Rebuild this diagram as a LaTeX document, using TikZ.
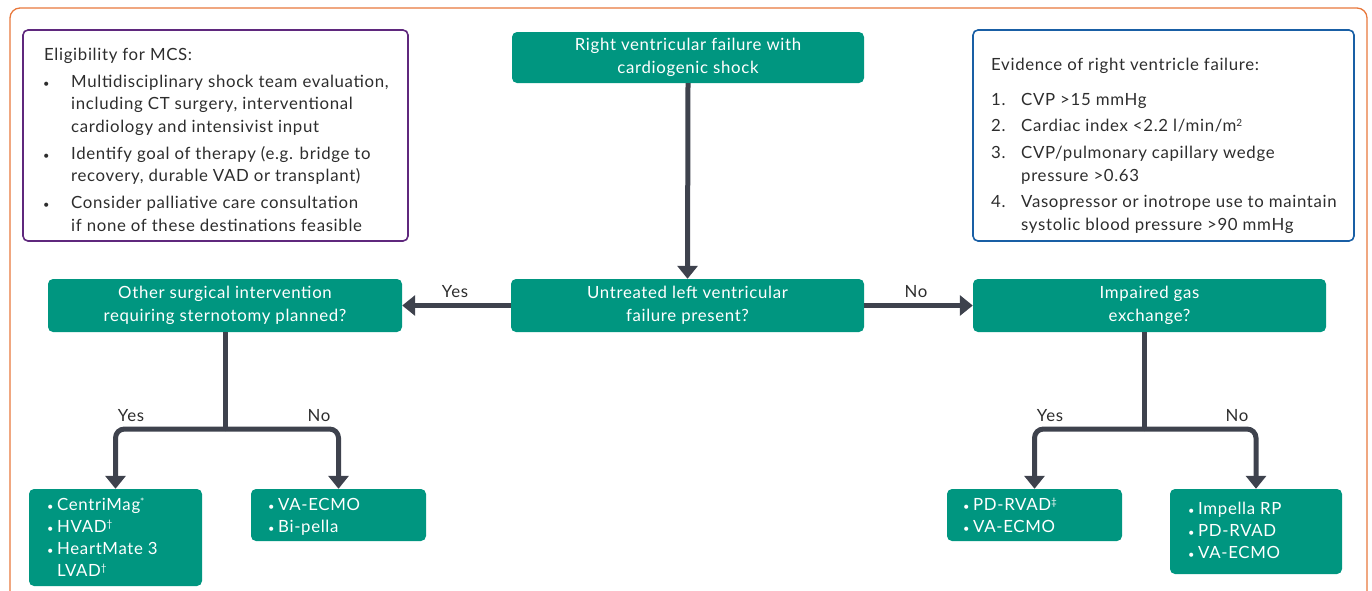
\documentclass[tikz,border=0pt]{standalone}
\usepackage{fontspec}
\setmainfont{Lato}[LetterSpace=4]
\usetikzlibrary{arrows.meta}
\definecolor{gr}{RGB}{0,150,128}
\definecolor{dk}{RGB}{62,66,77}
\definecolor{pu}{RGB}{95,40,125}
\definecolor{bl}{RGB}{25,95,165}
\definecolor{orng}{RGB}{232,120,60}
\definecolor{lbl}{RGB}{45,45,45}
\newcommand{\fs}{\fontsize{16.8}{22.5}\selectfont}
\newcommand{\ctab}[1]{{\fs\begin{tabular}{@{}c@{}}#1\end{tabular}}}
\newcommand{\btab}[1]{{\fontsize{16.8}{22}\selectfont\begin{tabular}[t]{@{}l@{}l@{}}#1\end{tabular}}}
\newcommand{\bu}{{\fontsize{11}{11}\selectfont •}}
\newcommand{\bb}{\makebox[10pt][l]{\bu}}
\newcommand{\sups}[1]{\raisebox{5pt}{\fontsize{10}{10}\selectfont #1}}
\tikzset{
 gbox/.style={fill=gr, rounded corners=5pt, inner sep=0pt, text=white},
 frame/.style={line width=1.6pt, rounded corners=5pt, inner sep=0pt},
 arr/.style={draw=dk, line width=5pt, -{Triangle[width=20pt,length=13pt]}},
 ln/.style={draw=dk, line width=5pt},
 lab/.style={text=lbl, font=\fontsize{16.8}{19}\selectfont, inner sep=0pt, anchor=base},
 txt/.style={inner sep=0pt, anchor=base west},
}
\begin{document}
\begin{tikzpicture}[x=1pt,y=-1pt]
\useasboundingbox (0,0) rectangle (1372,590);
\clip (0,0) rectangle (1372,590);
\draw[orng, line width=1.3pt, rounded corners=10pt] (10,8) rectangle (1367,620);
% info boxes
\node[frame, draw=pu, minimum width=385pt, minimum height=211pt] (elig) at (215.5,135.5) {};
\node[txt, text=lbl] (eligt) at (44,60) {\fs\begin{tabular}[t]{@{}l@{}l@{}}
\multicolumn{2}{@{}l@{}}{Eligibility for MCS:}\\[4.5pt]
\makebox[27pt][l]{\hspace{-1pt}\bu} & Multidisciplinary shock team evaluation,\\
 & including CT surgery, interventional\\
 & cardiology and intensivist input\\[4.5pt]
\hspace{-1pt}\bu & Identify goal of therapy (e.g. bridge to\\
 & recovery, durable VAD or transplant)\\[4.5pt]
\hspace{-1pt}\bu & Consider palliative care consultation\\
 & if none of these destinations feasible
\end{tabular}};
\node[frame, draw=bl, minimum width=381pt, minimum height=211pt] (evid) at (1163.5,135.5) {};
\node[txt, text=lbl] (evidt) at (991,70) {\fontsize{16.8}{23}\selectfont\begin{tabular}[t]{@{}l@{}l@{}}
\multicolumn{2}{@{}l@{}}{Evidence of right ventricle failure:}\\[12pt]
\makebox[30pt][l]{1.} & CVP >15 mmHg\\[3.5pt]
2. & Cardiac index <2.2 l/min/m\sups{2}\\[3.5pt]
3. & CVP/pulmonary capillary wedge\\
 & pressure >0.63\\[3.5pt]
4. & Vasopressor or inotrope use to maintain\\
 & systolic blood pressure >90 mmHg
\end{tabular}};
% decision boxes
\node[gbox, minimum width=352pt, minimum height=51pt] (rvf) at (688,57.5) {\ctab{Right ventricular failure with\\cardiogenic shock}};
\node[gbox, minimum width=353pt, minimum height=53pt] (lvf) at (687.5,305.5) {\ctab{Untreated left ventricular\\failure present?}};
\node[gbox, minimum width=354pt, minimum height=53pt] (surg) at (225,305.5) {\ctab{Other surgical intervention\\requiring sternotomy planned?}};
\node[gbox, minimum width=353pt, minimum height=53pt] (gas) at (1149.5,305.5) {\ctab{Impaired gas\\exchange?}};
% outcome boxes
\node[gbox, minimum width=173pt, minimum height=97pt] (cm) at (115.5,537.5) {};
\node[gbox, minimum width=175pt, minimum height=52pt] (va) at (338.5,515) {};
\node[gbox, minimum width=175pt, minimum height=52pt] (pd) at (1034.5,515) {};
\node[gbox, minimum width=172pt, minimum height=85pt] (imp) at (1256,531.5) {};
\node[txt, text=white] (cmt) at (47,510) {\btab{\bb & CentriMag\sups{*}\\ \bb & HVAD\sups{†}\\ \bb & HeartMate 3\\ & LVAD\sups{†}}};
\node[txt, text=white] (vat) at (268,510) {\btab{\bb & VA-ECMO\\ \bb & Bi-pella}};
\node[txt, text=white] (pdt) at (963,510) {\btab{\bb & PD-RVAD\sups{‡}\\ \bb & VA-ECMO}};
\node[txt, text=white] (impt) at (1188,514) {\btab{\bb & Impella RP\\ \bb & PD-RVAD\\ \bb & VA-ECMO}};
% connectors
\draw[arr] (rvf.south) -- (lvf.north);
\draw[arr] (lvf.west) -- (surg.east);
\draw[arr] (lvf.east) -- (gas.west);
\node[lab] (y1) at (455,297) {Yes};
\node[lab] (n1) at (916,297) {No};
\coordinate (jl) at (225,429);
\draw[ln] (surg.south) -- (jl);
\draw[arr, rounded corners=9pt] (jl) -| (cm.north);
\draw[arr, rounded corners=9pt] (jl) -| (va.north);
\coordinate (gs) at (1144,332);
\coordinate (jr) at (1144,429);
\draw[ln] (gs) -- (jr);
\draw[arr, rounded corners=9pt] (jr) -| (pd.north);
\draw[arr, rounded corners=9pt] (jr) -| (imp.north);
\node[lab] (y2) at (131,421) {Yes};
\node[lab] (n2) at (319,421) {No};
\node[lab] (y3) at (1050,421) {Yes};
\node[lab] (n3) at (1237,421) {No};
\end{tikzpicture}
\end{document}
